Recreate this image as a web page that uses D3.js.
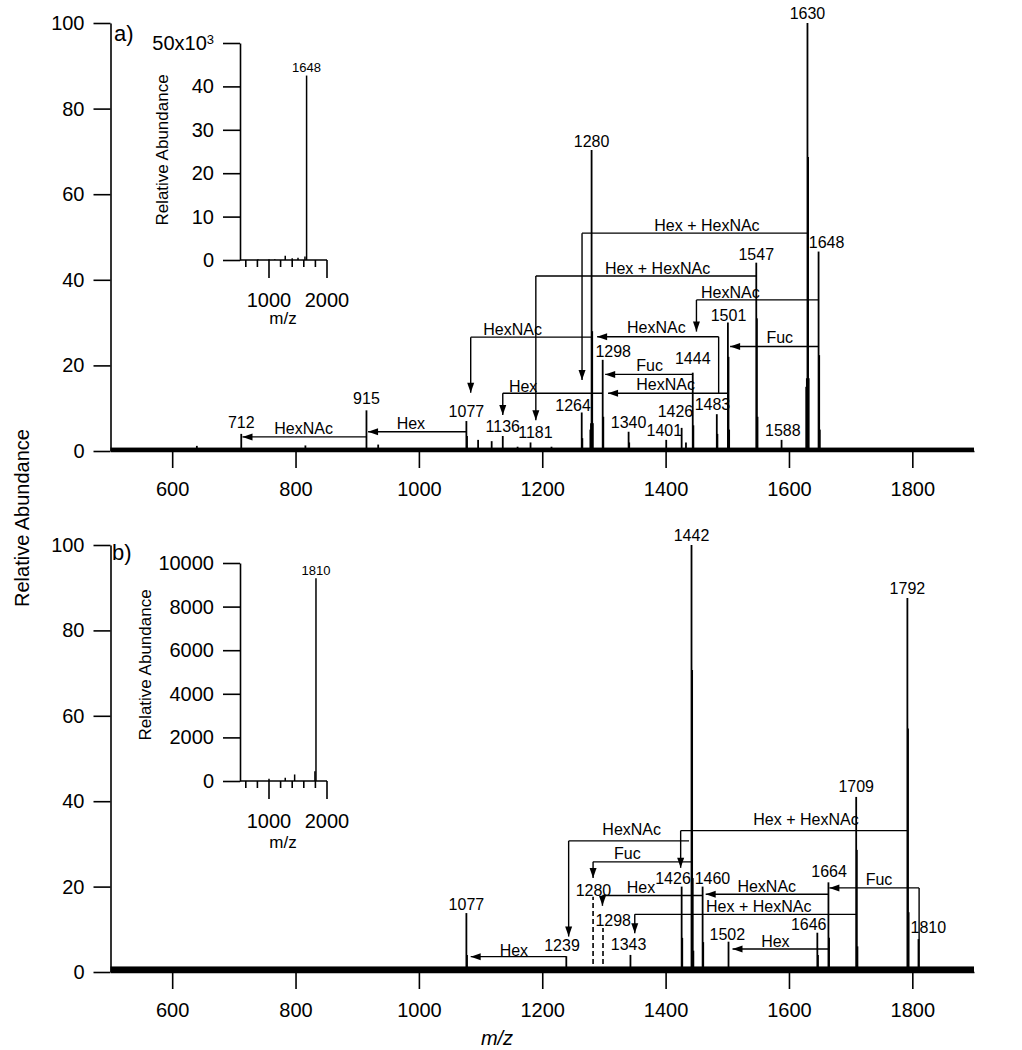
<!DOCTYPE html>
<html>
<head>
<meta charset="utf-8">
<script src="https://cdn.jsdelivr.net/npm/d3@7"></script>
<style>
  html, body { margin: 0; padding: 0; background: #fff; }
  svg { display: block; font-family: "Liberation Sans", Arial, sans-serif; }
</style>
</head>
<body>
<svg id="chart" width="1022" height="1050"></svg>
<script>
// ---------------- DATA ----------------
const xTicksMain = [600, 800, 1000, 1200, 1400, 1600, 1800];
const yTicksMain = [0, 20, 40, 60, 80, 100];

// panel a peaks [m/z, relative abundance]
const peaksA = [
  [640,1.2],[712,4.0],[816,1.3],[915,9.5],[934,1.5],[1077,7.0],[1078,3.5],[1096,2.6],[1118,2.3],
  [1136,3.5],[1160,1.0],[1181,2.0],[1215,1.0],[1264,9.0],[1265,3.0],[1278,5.0],[1279,6.5],
  [1280,70.3],[1281,28.0],[1282,6.5],[1298,21.3],[1299,8.0],[1340,4.5],[1341,2.0],[1401,2.6],
  [1426,5.4],[1433,2.0],[1444,18.3],[1445,6.0],[1483,8.6],[1484,4.0],[1501,30.0],[1502,22.0],
  [1503,5.0],[1547,44.0],[1548,31.0],[1549,8.0],[1588,2.6],[1628,15.0],[1629,17.0],[1630,100],
  [1631,68.7],[1632,17.0],[1648,46.6],[1649,22.4],[1650,5.0]
];
// panel b peaks
const peaksB = [
  [1077,13.8],[1078,4.0],[1239,3.7],[1343,4.0],[1426,20.0],[1427,8.0],[1442,100],[1443,70.7],
  [1444,22.0],[1445,5.0],[1460,20.0],[1461,7.0],[1502,7.1],[1646,9.2],[1647,4.0],[1664,21.0],
  [1665,8.0],[1709,41.0],[1710,28.6],[1711,6.0],[1792,87.6],[1793,57.0],[1794,14.0],[1810,7.7]
];
// dashed markers in panel b [m/z, top]
const dashesB = [[1282.4,17.6],[1298.5,10.3]];

// peak labels [text, m/z position, abundance position]
const labelsA = [
  ["712",712,6.8],["915",915,12.4],["1077",1077,9.2],["1136",1136,5.7],["1181",1189,4.5],
  ["1264",1250,10.7],["1280",1280,72.4],["1298",1315,23.4],["1340",1340,6.8],["1401",1398,4.9],
  ["1426",1416,9.2],["1444",1444,21.7],["1483",1476,11.0],["1501",1502,31.8],["1547",1547,46.0],
  ["1588",1590,4.9],["1630",1630,102.3],["1648",1661,48.7]
];
const labelsB = [
  ["1077",1077,15.9],["1239",1232,6.2],["1280",1283,19.2],["1298",1315,12.2],["1343",1340,6.6],
  ["1426",1412,22.0],["1442",1442,102.3],["1460",1476,22.0],["1502",1500,8.9],["1646",1632,11.2],
  ["1664",1665,23.5],["1709",1709,43.6],["1792",1792,89.9],["1810",1826,10.5]
];

// neutral-loss arrows: horizontal from x0 to x1 at level lv; tip = down-arrow end (null = left arrowhead)
const arrowsA = [
  {t:"HexNAc", x0:915, x1:714, lv:3.3, tip:null, lx:813, ly:5.3},
  {t:"Hex", x0:1077, x1:917.6, lv:4.5, tip:null, lx:987, ly:6.5},
  {t:"HexNAc", x0:1280, x1:1084, lv:26.6, tip:13.6, lx:1152, ly:28.4},
  {t:"Hex", x0:1298, x1:1136, lv:13.5, tip:8.4, lx:1169, ly:15.2},
  {t:"HexNAc", x0:1501, x1:1306.7, lv:13.5, tip:null, lx:1400, ly:15.7},
  {t:"Fuc", x0:1444, x1:1302, lv:17.9, tip:null, lx:1374, ly:20.1},
  {t:"HexNAc", x0:1486, x1:1289, lv:26.7, tip:null, stub:13.5, lx:1385, ly:29.0},
  {t:"HexNAc", x0:1648, x1:1450, lv:35.3, tip:27.9, lx:1505, ly:37.2},
  {t:"Fuc", x0:1648, x1:1504.6, lv:24.4, tip:null, lx:1585, ly:26.6},
  {t:"Hex + HexNAc", x0:1630, x1:1264.5, lv:50.9, tip:16.6, lx:1467, ly:52.8},
  {t:"Hex + HexNAc", x0:1547, x1:1189.6, lv:40.9, tip:7.2, lx:1387, ly:42.7}
];
const arrowsB = [
  {t:"Hex", x0:1239, x1:1084, lv:3.6, tip:null, lx:1154, ly:5.2},
  {t:"HexNAc", x0:1438, x1:1242.8, lv:30.7, tip:8.3, lx:1345, ly:33.4},
  {t:"Fuc", x0:1443, x1:1282.4, lv:25.8, tip:22.0, lx:1338, ly:27.9},
  {t:"Hex + HexNAc", x0:1793, x1:1424.4, lv:33.1, tip:24.4, lx:1627.6, ly:35.8},
  {t:"Hex", x0:1460, x1:1297.6, lv:17.9, tip:15.5, lx:1360, ly:19.8},
  {t:"HexNAc", x0:1664, x1:1465, lv:18.2, tip:null, lx:1564, ly:20.1},
  {t:"Hex + HexNAc", x0:1710, x1:1350, lv:13.5, tip:9.1, lx:1551, ly:15.3},
  {t:"Hex", x0:1664, x1:1508.5, lv:5.4, tip:null, lx:1578, ly:7.3},
  {t:"Fuc", x0:1811, x1:1665.5, lv:19.7, tip:null, stub:0, lx:1746, ly:21.8}
];

// insets (full MS)
const insetXTicksMajor = [1000, 2000];
const insetXTicksMinor = [600, 800, 1200, 1400, 1600, 1800];
const insetAYTicks = [0, 10000, 20000, 30000, 40000, 50000];
const insetBYTicks = [0, 2000, 4000, 6000, 8000, 10000];
const insetA = [[810,200],[1000,150],[1100,200],[1280,1000],[1400,400],[1500,500],[1620,800],[1648,42500]];
const insetB = [[1000,100],[1280,150],[1442,300],[1792,450],[1810,9300]];
const insetALabel = ["1648",1648,44500];
const insetBLabel = ["1810",1810,9680];

// ---------------- DRAW ----------------
const svg = d3.select("#chart");
const ink = "#000";
const LBL = 16;

const x = d3.scaleLinear().domain([500,1900]).range([110.5,974]);
const yA = d3.scaleLinear().domain([0,100]).range([451,23]);
const yB = d3.scaleLinear().domain([0,100]).range([972,545]);

function panel(y, peaks, labels, arrows, dashes, noise) {
  const g = svg.append("g");
  g.append("rect").attr("x", x(500)).attr("width", x(1900)-x(500))
    .attr("y", y(noise)).attr("height", y(0)-y(noise)).attr("fill", ink);
  g.selectAll("line.pk").data(peaks).enter().append("line")
    .attr("x1", d=>x(d[0])).attr("x2", d=>x(d[0]))
    .attr("y1", y(0)).attr("y2", d=>y(d[1]))
    .attr("stroke", ink).attr("stroke-width", 1.8);
  g.selectAll("line.ds").data(dashes).enter().append("line")
    .attr("x1", d=>x(d[0])).attr("x2", d=>x(d[0]))
    .attr("y1", y(0)).attr("y2", d=>y(d[1]))
    .attr("stroke", ink).attr("stroke-width", 1.6).attr("stroke-dasharray", "5,3");
  arrows.forEach(a => {
    const X0 = x(a.x0), X1 = x(a.x1), L = y(a.lv);
    g.append("line").attr("x1", X0).attr("x2", X1).attr("y1", L).attr("y2", L)
      .attr("stroke", ink).attr("stroke-width", 1.4);
    if (a.stub !== undefined) {
      g.append("line").attr("x1", X0).attr("x2", X0).attr("y1", L).attr("y2", y(a.stub))
        .attr("stroke", ink).attr("stroke-width", 1.4);
    }
    if (a.tip === null) {
      g.append("path").attr("d", `M${X1},${L}L${X1+10},${L-3.5}L${X1+10},${L+3.5}Z`).attr("fill", ink);
    } else {
      const T = y(a.tip);
      g.append("line").attr("x1", X1).attr("x2", X1).attr("y1", L).attr("y2", T)
        .attr("stroke", ink).attr("stroke-width", 1.4);
      g.append("path").attr("d", `M${X1},${T}L${X1-3.5},${T-10}L${X1+3.5},${T-10}Z`).attr("fill", ink);
    }
    g.append("text").attr("x", x(a.lx)).attr("y", y(a.ly)).attr("dy", "0.36em")
      .attr("text-anchor", "middle").attr("font-size", LBL).attr("fill", ink).text(a.t);
  });
  g.selectAll("text.pl").data(labels).enter().append("text")
    .attr("x", d=>x(d[1])).attr("y", d=>y(d[2])).attr("dy", "0.36em")
    .attr("text-anchor", "middle").attr("font-size", LBL).attr("fill", ink).text(d=>d[0]);
  const ax = g.append("g").attr("transform", `translate(0,${y(0)})`)
    .call(d3.axisBottom(x).tickValues(xTicksMain).tickFormat(d3.format("d"))
      .tickSize(17).tickSizeOuter(0).tickPadding(14));
  const ay = g.append("g").attr("transform", `translate(${x(500)},0)`)
    .call(d3.axisLeft(y).tickValues(yTicksMain).tickFormat(d3.format("d"))
      .tickSize(17).tickSizeOuter(0).tickPadding(9));
  [ax, ay].forEach(a => {
    a.selectAll("path").attr("stroke", ink).attr("stroke-width", 1.6);
    a.selectAll("line").attr("stroke", ink).attr("stroke-width", 1.6);
    a.selectAll("text").attr("font-size", 20).attr("fill", ink)
      .attr("font-family", '"Liberation Sans", Arial, sans-serif');
  });
  return g;
}

panel(yA, peaksA, labelsA, arrowsA, [], 0.8);
panel(yB, peaksB, labelsB, arrowsB, dashesB, 1.3);

svg.append("text").attr("x", 114).attr("y", 41).attr("font-size", 22).text("a)");
svg.append("text").attr("x", 112).attr("y", 560).attr("font-size", 22).text("b)");

svg.append("text").attr("transform", "translate(29,518) rotate(-90)")
  .attr("text-anchor", "middle").attr("font-size", 20).text("Relative Abundance");
svg.append("text").attr("x", 497).attr("y", 1045).attr("text-anchor", "middle")
  .attr("font-size", 20).attr("font-style", "italic").text("m/z");

const xi = d3.scaleLinear().domain([500,2000]).range([240,327]);
function inset(yi, ticks, fmt, data, lab, labX, labY, mzY) {
  const g = svg.append("g");
  const base = yi(0);
  g.selectAll("line.p").data(data).enter().append("line")
    .attr("x1", d=>xi(d[0])).attr("x2", d=>xi(d[0]))
    .attr("y1", base).attr("y2", d=>yi(d[1]))
    .attr("stroke", ink).attr("stroke-width", 1.5);
  g.append("text").attr("x", xi(lab[1])).attr("y", yi(lab[2])).attr("dy", "0.36em")
    .attr("text-anchor", "middle").attr("font-size", 13).text(lab[0]);
  const ay = g.append("g").attr("transform", `translate(${xi(500)},0)`)
    .call(d3.axisLeft(yi).tickValues(ticks).tickFormat(fmt).tickSize(17).tickSizeOuter(0).tickPadding(9));
  ay.selectAll("path").attr("stroke", ink).attr("stroke-width", 1.6);
  ay.selectAll("line").attr("stroke", ink).attr("stroke-width", 1.6);
  ay.selectAll("text").attr("font-size", 20).attr("fill", ink)
    .attr("font-family", '"Liberation Sans", Arial, sans-serif');
  g.append("line").attr("x1", xi(500)).attr("x2", xi(2000)).attr("y1", base).attr("y2", base)
    .attr("stroke", ink).attr("stroke-width", 1.6);
  g.selectAll("line.mn").data(insetXTicksMinor).enter().append("line")
    .attr("x1", d=>xi(d)).attr("x2", d=>xi(d)).attr("y1", base).attr("y2", base+7)
    .attr("stroke", ink).attr("stroke-width", 1.6);
  g.selectAll("line.mj").data(insetXTicksMajor).enter().append("line")
    .attr("x1", d=>xi(d)).attr("x2", d=>xi(d)).attr("y1", base).attr("y2", base+18)
    .attr("stroke", ink).attr("stroke-width", 1.6);
  g.selectAll("text.mj").data(insetXTicksMajor).enter().append("text")
    .attr("x", d=>xi(d)).attr("y", base+47).attr("text-anchor", "middle")
    .attr("font-size", 20).text(d=>d);
  g.append("text").attr("x", 283).attr("y", mzY).attr("text-anchor", "middle")
    .attr("font-size", 17).text("m/z");
  g.append("text").attr("transform", `translate(${labX},${labY}) rotate(-90)`)
    .attr("text-anchor", "middle").attr("font-size", 17).text("Relative Abundance");
  return {g, ay};
}

const yiA = d3.scaleLinear().domain([0,50000]).range([260,43]);
const yiB = d3.scaleLinear().domain([0,10000]).range([781,563]);
const iA = inset(yiA, insetAYTicks, d => d === 50000 ? "" : String(d/1000), insetA, insetALabel, 168, 150, 324);
const sup = iA.g.append("text").attr("x", 214).attr("y", yiA(50000)).attr("dy", "0.36em")
  .attr("text-anchor", "end").attr("font-size", 20);
sup.append("tspan").text("50x10");
sup.append("tspan").attr("dy", "-0.5em").attr("font-size", 13).text("3");
inset(yiB, insetBYTicks, d => String(d), insetB, insetBLabel, 151, 665, 848);
</script>
</body>
</html>
